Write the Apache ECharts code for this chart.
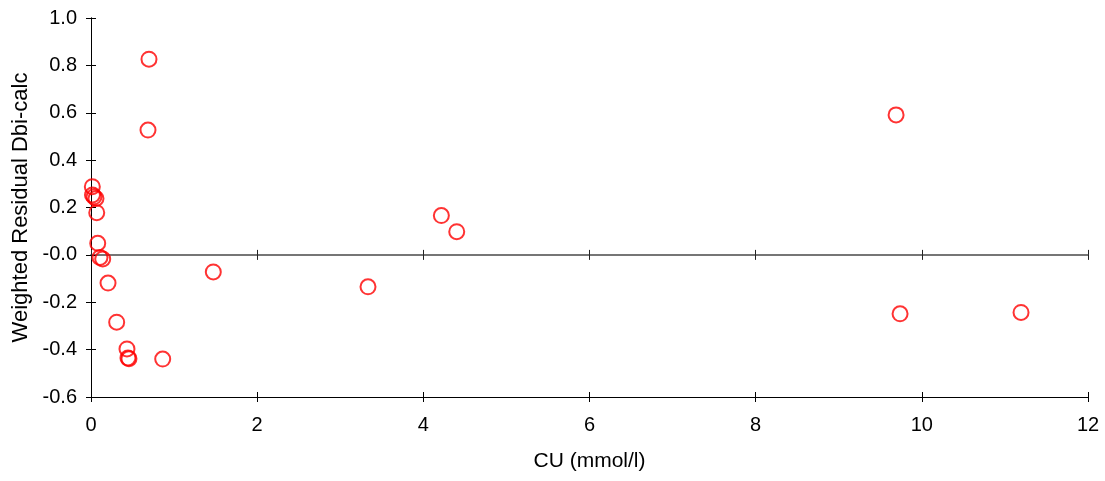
<!DOCTYPE html>
<html>
<head>
<meta charset="utf-8">
<script src="https://cdn.jsdelivr.net/npm/echarts@6/dist/echarts.min.js"></script>
<style>
  html, body { margin: 0; padding: 0; background: #fff; }
  #main { width: 1105px; height: 481px; }
</style>
</head>
<body>
<div id="main"></div>
<script>
// CU (mmol/l) values
var cuValues = [0.016, 0.018, 0.036, 0.060, 0.069, 0.081, 0.108, 0.141, 0.205, 0.309,
  0.433, 0.445, 0.457, 0.863, 1.472, 0.698, 0.686, 4.217, 4.402, 3.334, 9.690, 9.738, 11.194];
// weighted residuals
var residValues = [0.288, 0.253, 0.245, 0.238, 0.178, 0.049, -0.011, -0.017, -0.119, -0.284,
  -0.397, -0.435, -0.438, -0.440, -0.072, 0.826, 0.527, 0.166, 0.098, -0.135, 0.591, -0.249, -0.243];

var xTicks = [0, 2, 4, 6, 8, 10, 12];
var yTicks = [-0.6, -0.4, -0.2, 0, 0.2, 0.4, 0.6, 0.8, 1.0];

var points = cuValues.map(function (v, i) { return [v, residValues[i]]; });

var font = "'Liberation Sans', Arial, sans-serif";
var gridRect = { left: 91, right: 17, top: 18, bottom: 84 };

function yLabel(v) {
  if (Math.abs(v) < 1e-9) return "-0.0";
  return v.toFixed(1);
}

var myChart = echarts.init(document.getElementById("main"));

var xBase = {
  type: "value",
  min: xTicks[0],
  max: xTicks[xTicks.length - 1],
  interval: 2,
  splitLine: { show: false }
};
var yBase = {
  type: "value",
  min: yTicks[0],
  max: yTicks[yTicks.length - 1],
  interval: 0.2,
  splitLine: { show: false }
};

myChart.setOption({
  animation: false,
  backgroundColor: "#fff",
  grid: [
    Object.assign({}, gridRect),
    Object.assign({}, gridRect),
    Object.assign({}, gridRect)
  ],
  xAxis: [
    // bottom axis with labels
    Object.assign({}, xBase, {
      gridIndex: 0,
      position: "bottom",
      name: "CU (mmol/l)",
      nameLocation: "middle",
      nameGap: 54,
      nameTextStyle: { fontFamily: font, fontSize: 21, color: "#000" },
      axisLine: { onZero: false, lineStyle: { color: "#000", width: 1 } },
      axisTick: { length: 5, lineStyle: { color: "#000" } },
      axisLabel: { fontFamily: font, fontSize: 20, color: "#000", margin: 18 }
    }),
    // bottom axis, inner ticks
    Object.assign({}, xBase, {
      gridIndex: 1,
      position: "bottom",
      axisLine: { onZero: false, lineStyle: { color: "#000", width: 1 } },
      axisTick: { inside: true, length: 5, lineStyle: { color: "#000" } },
      axisLabel: { show: false }
    }),
    // zero line, ticks pointing up
    Object.assign({}, xBase, {
      gridIndex: 1,
      position: "top",
      axisLine: { onZero: true, lineStyle: { color: "#6e6e6e", width: 1.5 } },
      axisTick: { length: 5, lineStyle: { color: "#222" } },
      axisLabel: { show: false }
    }),
    // zero line, ticks pointing down
    Object.assign({}, xBase, {
      gridIndex: 2,
      position: "bottom",
      axisLine: { onZero: true, lineStyle: { color: "#6e6e6e", width: 1.5 } },
      axisTick: { length: 5, lineStyle: { color: "#222" } },
      axisLabel: { show: false }
    })
  ],
  yAxis: [
    Object.assign({}, yBase, {
      gridIndex: 0,
      position: "left",
      name: "Weighted Residual Dbi-calc",
      nameLocation: "middle",
      nameRotate: 90,
      nameGap: 59,
      nameTextStyle: { fontFamily: font, fontSize: 22, color: "#000" },
      axisLine: { onZero: false, lineStyle: { color: "#000", width: 1 } },
      axisTick: { length: 5, lineStyle: { color: "#000" } },
      axisLabel: { fontFamily: font, fontSize: 20, color: "#000", margin: 14, formatter: yLabel }
    }),
    Object.assign({}, yBase, {
      gridIndex: 1,
      position: "left",
      axisLine: { onZero: false, lineStyle: { color: "#000", width: 1 } },
      axisTick: { inside: true, length: 5, lineStyle: { color: "#000" } },
      axisLabel: { show: false }
    }),
    Object.assign({}, yBase, {
      gridIndex: 2,
      position: "left",
      axisLine: { show: false, onZero: false },
      axisTick: { show: false },
      axisLabel: { show: false }
    })
  ],
  series: [
    {
      type: "scatter",
      xAxisIndex: 0,
      yAxisIndex: 0,
      data: points,
      symbol: "circle",
      symbolSize: 15,
      itemStyle: { color: "transparent", borderColor: "#ff0000", borderWidth: 2 },
      z: 10
    }
  ]
});
</script>
</body>
</html>
